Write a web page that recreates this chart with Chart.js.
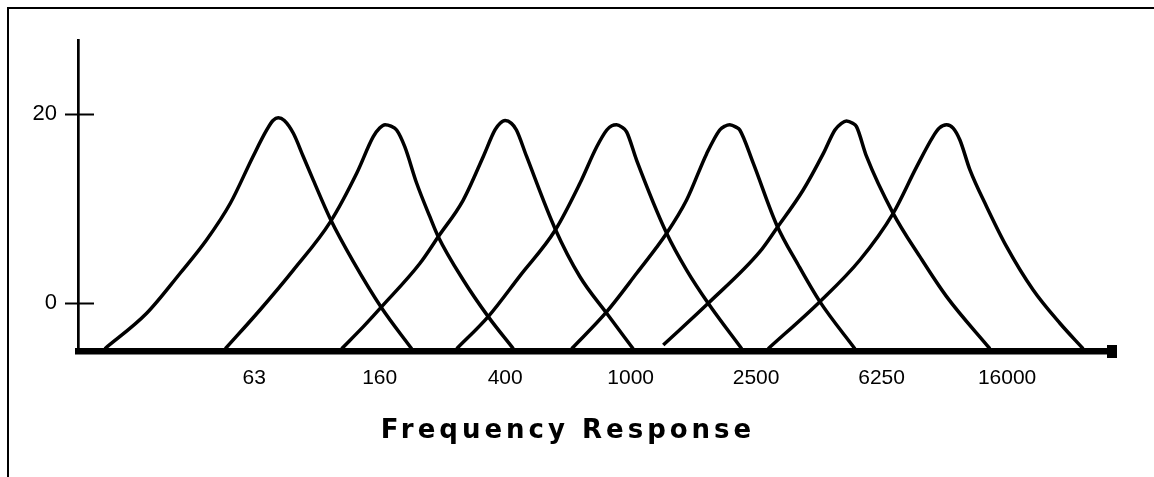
<!doctype html>
<html>
<head>
    <title>Frequency Response</title>
    <script src="https://cdn.jsdelivr.net/npm/chart.js"></script>
    <style>
        html, body{
            margin: 0px;
            width: 100%;
            height: 100%;
            background: #fff;
            overflow: hidden;
        }
        #container{
            position: absolute;
            left: 0px;
            top: 0px;
            width: 1154px;
            height: 477px;
        }
        #frame{
            position: absolute;
            left: 7px;
            top: 7px;
            right: -10px;
            bottom: -10px;
            border-top: 2.5px solid #000;
            border-left: 2.5px solid #000;
            pointer-events: none;
        }
    </style>
</head>
<body>
    <div id="container"><canvas id="canvas"></canvas></div>
    <div id="frame"></div>

    <script>
        // band centres on the x axis (position = band index)
        var bandLabels = ['63', '160', '400', '1000', '2500', '6250', '16000'];
        var bandPos = [1, 2, 3, 4, 5, 6, 7];
        var yTicks = [0, 20];

        // each filter curve: [band position, level]
        var curve1 = [[-0.19,-4.8],[0.143,-1.06],[0.41,3.17],[0.62,6.68],[0.81,10.56],[0.99,15.48],[1.10,18.3],[1.15,19.3],[1.192,19.6],[1.24,19.3],[1.312,17.95],[1.391,15.5],[1.471,13.0],[1.607,8.9],[1.79,4.4],[2.016,-0.5],[2.255,-4.8]];
        var curve2 = [[0.77,-4.8],[1.046,-0.71],[1.312,3.5],[1.607,8.6],[1.817,13.73],[1.949,17.59],[2.0,18.5],[2.043,18.85],[2.09,18.7],[2.135,18.3],[2.2,16.54],[2.295,12.67],[2.40,9.14],[2.467,7.03],[2.666,2.46],[2.865,-1.41],[3.065,-4.8]];
        var curve3 = [[1.697,-4.8],[1.87,-2.47],[2.016,-0.36],[2.32,4.2],[2.467,7.03],[2.666,10.9],[2.826,15.5],[2.919,18.3],[2.96,19.0],[3.0,19.3],[3.05,19.0],[3.09,18.3],[3.171,15.5],[3.397,7.9],[3.596,2.8],[3.809,-1.06],[4.02,-4.8]];
        var curve4 = [[2.614,-4.8],[2.865,-1.41],[3.118,2.9],[3.40,7.74],[3.596,12.67],[3.729,16.5],[3.81,18.3],[3.85,18.75],[3.888,18.85],[3.93,18.6],[3.968,18.1],[4.048,15.1],[4.287,7.39],[4.446,3.5],[4.618,0.0],[4.885,-4.8]];
        var curve5 = [[3.53,-4.8],[3.81,-0.88],[4.048,3.17],[4.287,7.39],[4.446,10.9],[4.606,15.8],[4.71,18.3],[4.75,18.7],[4.79,18.85],[4.84,18.6],[4.87,18.3],[4.977,14.8],[5.163,8.3],[5.336,4.04],[5.508,0.17],[5.787,-4.8]];
        var curve6 = [[4.26,-4.4],[4.618,0.0],[5.03,5.45],[5.163,7.9],[5.375,11.96],[5.535,15.8],[5.628,18.3],[5.68,19.0],[5.72,19.25],[5.77,19.0],[5.80,18.65],[5.88,15.5],[6.092,9.5],[6.305,4.92],[6.518,0.7],[6.863,-4.8]];
        var curve7 = [[5.096,-4.8],[5.508,0.17],[5.827,4.57],[6.092,9.5],[6.279,14.4],[6.41,17.6],[6.46,18.5],[6.518,18.85],[6.57,18.5],[6.624,17.24],[6.704,14.08],[6.837,10.2],[6.996,5.98],[7.208,1.40],[7.421,-2.11],[7.606,-4.8]];

        var curves = [curve1, curve2, curve3, curve4, curve5, curve6, curve7];

        var font = "'Liberation Sans', Arial, sans-serif";

        var decor = {
            id: 'decor',
            afterDraw: function(chart){
                var ctx = chart.ctx;
                var area = chart.chartArea;
                var ys = chart.scales.y;
                ctx.save();
                ctx.strokeStyle = '#000';
                ctx.fillStyle = '#000';
                ctx.lineWidth = 2;
                // y tick marks crossing the axis
                for(var i = 0; i < yTicks.length; ++i){
                    var py = Math.round(ys.getPixelForValue(yTicks[i])) + 0.5;
                    ctx.beginPath();
                    ctx.moveTo(area.left - 13, py);
                    ctx.lineTo(area.left + 16, py);
                    ctx.stroke();
                }
                // end block of the x axis
                ctx.fillRect(area.right - 8, area.bottom - 6, 10, 13);

                // title under the axis
                ctx.font = "bold 26px 'DejaVu Sans', sans-serif";
                ctx.letterSpacing = '4px';
                ctx.textAlign = 'center';
                ctx.textBaseline = 'alphabetic';
                ctx.fillText('Frequency Response', 568, 438);
                ctx.restore();
            }
        };

        window.onload = function(){
            var ctx = document.getElementById('canvas').getContext('2d');
            window.myChart = new Chart(ctx, {
                type: 'line',
                data: {
                    datasets: curves.map(function(c){
                        return {
                            data: c.map(function(p){ return {x: p[0], y: p[1]}; }),
                            borderColor: '#000',
                            borderWidth: 3.5,
                            pointRadius: 0,
                            fill: false,
                            cubicInterpolationMode: 'monotone'
                        };
                    })
                },
                options: {
                    responsive: true,
                    maintainAspectRatio: false,
                    animation: false,
                    layout: { padding: { top: 40, right: 39, left: 0, bottom: 0 } },
                    plugins: {
                        legend: { display: false },
                        tooltip: { enabled: false }
                    },
                    scales: {
                        x: {
                            type: 'linear',
                            min: -0.404,
                            max: 7.86,
                            afterBuildTicks: function(s){
                                s.ticks = bandPos.map(function(v){ return {value: v}; });
                            },
                            afterFit: function(s){ s.height = 126; },
                            ticks: {
                                callback: function(v, i){ return bandLabels[i]; },
                                font: { size: 21, family: font },
                                color: '#000',
                                padding: 15,
                                autoSkip: false,
                                maxRotation: 0
                            },
                            grid: { display: false, drawTicks: false },
                            border: { color: '#000', width: 6.5 }
                        },
                        y: {
                            min: -5.04,
                            max: 27.8,
                            afterBuildTicks: function(s){
                                s.ticks = yTicks.map(function(v){ return {value: v}; });
                            },
                            afterFit: function(s){ s.width = 78; },
                            ticks: {
                                font: { size: 22, family: font },
                                color: '#000',
                                padding: 21
                            },
                            grid: { display: false, drawTicks: false },
                            border: { color: '#000', width: 2.7 }
                        }
                    }
                },
                plugins: [decor]
            });
        };
    </script>
</body>
</html>
